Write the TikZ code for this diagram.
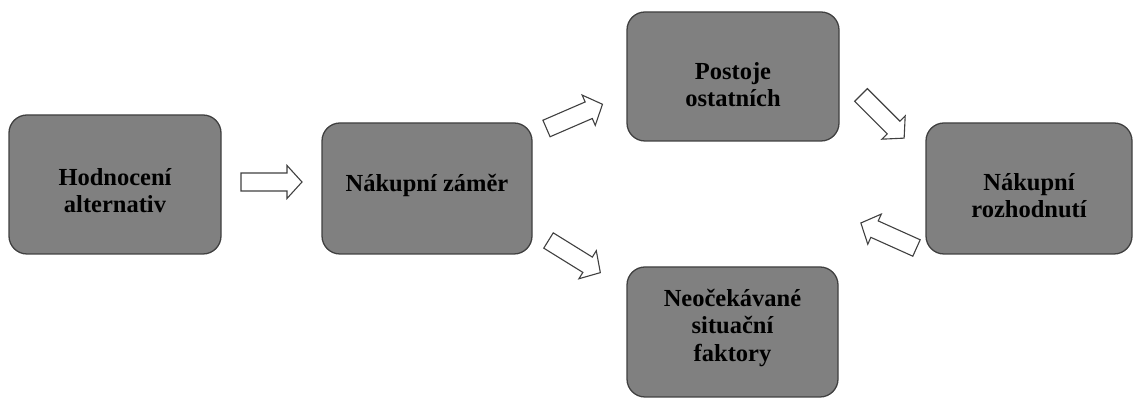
\documentclass[tikz,border=0pt]{standalone}
\usepackage{fontspec}
\setmainfont{Liberation Serif}
\begin{document}
\begin{tikzpicture}[x=1pt,y=1pt,
  stage/.style={draw=black!75, line width=1.3pt, fill=black!50, rounded corners=18pt,
    inner sep=0pt},
  stagetext/.style={inner sep=0pt, align=center, font=\bfseries\fontsize{24.5}{27.5}\selectfont, text=black},
  arrowline/.style={draw=black!75, line width=1.1pt, fill=white, line join=miter},
  blockarrow/.pic={
    \path[arrowline] (0,-9) -- (46,-9) -- (46,-16.5) -- (61,0) -- (46,16.5) -- (46,9) -- (0,9) -- cycle;
  }]
\useasboundingbox (0,0) rectangle (1133,398);

% process stages
\node[stage, minimum width=212pt, minimum height=139pt] (b1) at (115,213.5) {};
\node[stage, minimum width=210pt, minimum height=131pt] (b2) at (427,209.5) {};
\node[stage, minimum width=212pt, minimum height=129pt] (b3) at (733,321.5) {};
\node[stage, minimum width=206pt, minimum height=131pt] (b4) at (1029,209.5) {};
\node[stage, minimum width=211pt, minimum height=130pt] (b5) at (732.5,66) {};

% stage captions
\node[stagetext] (t1) at ([yshift=-6pt]b1.center) {Hodnocení\\alternativ};
\node[stagetext] (t2) at ([yshift=3pt]b2.center) {Nákupní záměr};
\node[stagetext] (t3) at ([yshift=-8pt]b3.center) {Postoje\\ostatních};
\node[stagetext] (t4) at ([yshift=-7pt]b4.center) {Nákupní\\rozhodnutí};
\node[stagetext] (t5) at ([yshift=4pt]b5.center) {Neočekávané\\situační\\faktory};

% block arrows between the stages
\pic at (241,216) {blockarrow};
\pic[rotate=23.4] at (546.5,269.5) {blockarrow};
\pic[rotate=-31.8] at (548.5,157.5) {blockarrow};
\pic[rotate=-45] at (861,303) {blockarrow};
\pic[rotate=155.8] at (916.5,150) {blockarrow};
\end{tikzpicture}
\end{document}
